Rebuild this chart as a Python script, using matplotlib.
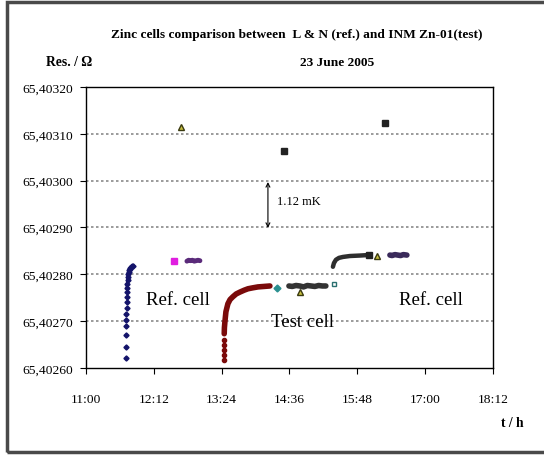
"""
Zinc cells comparison: L & N (ref.) vs INM Zn-01 (test), 23 June 2005
"""

import matplotlib
matplotlib.use('Agg')
from matplotlib import pyplot as plt
from matplotlib.patches import Rectangle

plt.rcParams['font.family'] = ['Liberation Serif', 'DejaVu Serif']

# time in minutes after 11:00, resistance offset in units of 1e-5 Ohm above 65.40260
BASE = 65.40260
UNIT = 1e-5

ref1_t = [43.0, 43.0, 43.0, 43.0, 43.0, 43.0, 43.2, 43.3, 43.5, 43.5, 43.7, 44.0,
          44.3, 44.6, 44.9, 45.3, 45.8, 46.4, 47.1, 48.0, 48.7, 49.8]
ref1_u = [2.1, 4.5, 7.1, 9.0, 10.3, 11.5, 12.8, 14.1, 15.2, 16.2, 17.1, 17.9,
          18.8, 19.4, 20.1, 20.5, 20.9, 21.2, 21.4, 21.6, 21.7, 21.8]

magenta_t = [93.4]
magenta_u = [22.9]
purple1_t = [107.2, 109.0, 111.0, 113.0, 115.0, 117.0, 119.0, 121.0]
purple1_u = [22.8, 23.0, 22.9, 23.0, 22.8, 22.9, 23.0, 22.9]

test_pts_t = [146.8, 146.8, 146.8, 146.8, 146.8]
test_pts_u = [1.7, 2.8, 3.8, 4.9, 6.0]
test_t = [146.8, 147.0, 147.5, 148.6, 150.7, 153.0, 156.0, 159.5, 163.5, 168.0, 172.0,
          177.0, 182.6, 189.0, 195.3]
test_u = [7.3, 8.6, 9.8, 12.0, 13.7, 14.6, 15.2, 15.8, 16.2, 16.6, 16.9,
          17.1, 17.3, 17.4, 17.5]

cyan_t = [202.7]
cyan_u = [17.1]
test2_t = [215.5, 219.0, 223.0, 227.0, 231.0, 235.0, 239.0, 243.0, 247.0, 251.0, 254.7]
test2_u = [17.5, 17.4, 17.6, 17.5, 17.3, 17.6, 17.5, 17.4, 17.6, 17.5, 17.5]
sq_open_t = [263.2]
sq_open_u = [18.0]

ref2_t = [262.2, 263.3, 265.4, 268.6, 272.8, 280.2, 290.8, 299.3]
ref2_u = [21.6, 22.4, 23.1, 23.5, 23.7, 23.9, 24.0, 24.1]
purple2_t = [322.7, 325.0, 328.0, 331.0, 334.0, 337.0, 340.7]
purple2_u = [24.1, 24.0, 24.2, 24.1, 24.0, 24.2, 24.1]

tri_t = [100.8, 227.2, 308.9]
tri_u = [51.5, 16.2, 23.9]
sq_t = [210.2, 317.4, 300.4]
sq_u = [46.4, 52.4, 24.1]

xticks = [0, 72, 144, 216, 288, 360, 432]
xtick_labels = ['11:00', '12:12', '13:24', '14:36', '15:48', '17:00', '18:12']
yticks = [65.40260, 65.40270, 65.40280, 65.40290, 65.40300, 65.40310, 65.40320]
ytick_labels = ['65,40260', '65,40270', '65,40280', '65,40290', '65,40300', '65,40310', '65,40320']


def res(u_list):
    return [BASE + u * UNIT for u in u_list]


def generated_report():
    fig = plt.figure(figsize=(5.44, 4.56), dpi=100)
    ax = fig.add_axes([0.158, 0.191, 0.748, 0.616])

    # grid
    for y in yticks[1:-1]:
        ax.axhline(y, color='#8a8a8a', lw=1.2, ls=(0, (1.5, 1.5)), zorder=0)

    # ref cell (first)
    ax.plot(ref1_t, res(ref1_u), ls='none', marker='D', ms=2.6, color='#14146a')
    ax.plot(ref1_t[10:], res(ref1_u[10:]), color='#14146a', lw=2.3)
    ax.plot(magenta_t, res(magenta_u), ls='none', marker='s', ms=5, color='#e01ee0')
    ax.plot(purple1_t, res(purple1_u), color='#5a2a7a', lw=3.5, solid_capstyle='round')

    # test cell
    ax.plot(test_pts_t, res(test_pts_u), ls='none', marker='o', ms=3, color='#7a0a0a')
    ax.plot(test_t, res(test_u), color='#7a0a0a', lw=4, solid_capstyle='round')
    ax.plot(cyan_t, res(cyan_u), ls='none', marker='D', ms=3.5, color='#2a9090')
    ax.plot(test2_t, res(test2_u), color='#333333', lw=4, solid_capstyle='round')
    ax.plot(sq_open_t, res(sq_open_u), ls='none', marker='s', ms=3.5,
            mfc='white', mec='#2a7070', mew=1)

    # ref cell (second)
    ax.plot(ref2_t, res(ref2_u), color='#2e2e2e', lw=3.2, solid_capstyle='round')
    ax.plot(purple2_t, res(purple2_u), color='#3a2a5a', lw=4, solid_capstyle='round')

    ax.plot(sq_t, res(sq_u), ls='none', marker='s', ms=4.5, color='#222222')
    ax.plot(tri_t, res(tri_u), ls='none', marker='^', ms=5, mfc='#c8c040',
            mec='#3a3a10', mew=1)

    # 1.12 mK arrow
    ax.annotate('', xy=(193.2, BASE + 29.9 * UNIT), xytext=(193.2, BASE + 39.7 * UNIT),
                arrowprops=dict(arrowstyle='<->', color='black', lw=0.8,
                                shrinkA=0, shrinkB=0, mutation_scale=7))
    ax.text(203, BASE + 35.6 * UNIT, '1.12 mK', fontsize=9, va='center', ha='left')

    ax.text(97.7, BASE + 14.7 * UNIT, 'Ref. cell', fontsize=13.5, ha='center', va='center')
    ax.text(230, BASE + 10.0 * UNIT, 'Test cell', fontsize=13.5, ha='center', va='center')
    ax.text(366, BASE + 14.7 * UNIT, 'Ref. cell', fontsize=13.5, ha='center', va='center')

    ax.set_xlim(0, 432)
    ax.set_ylim(yticks[0], yticks[-1])
    ax.set_xticks(xticks)
    ax.set_xticklabels(xtick_labels)
    ax.set_yticks(yticks)
    ax.set_yticklabels(ytick_labels)
    ax.tick_params(axis='both', direction='out', length=4, width=0.8, labelsize=9.7)
    ax.tick_params(axis='x', pad=14)
    ax.tick_params(axis='y', pad=5)
    for s in ax.spines.values():
        s.set_linewidth(1.0)

    fig.text(0.546, 0.923, 'Zinc cells comparison between  L & N (ref.) and INM Zn-01(test)',
             ha='center', va='center', fontsize=9.6, fontweight='bold')
    fig.text(0.619, 0.862, '23 June 2005', ha='center', va='center', fontsize=9.6,
             fontweight='bold')
    fig.text(0.127, 0.862, 'Res. / Ω', ha='center', va='center', fontsize=9.8,
             fontweight='bold')
    fig.text(0.941, 0.072, 't / h', ha='center', va='center', fontsize=9.8,
             fontweight='bold')

    # outer frame
    fig.patches.append(Rectangle((0.012, 0.006), 1.02, 0.988, transform=fig.transFigure,
                                 fill=False, ec='#4a4a4a', lw=2.5, clip_on=False))

    fig.savefig('out.png', dpi=100)


if __name__ == '__main__':
    generated_report()
